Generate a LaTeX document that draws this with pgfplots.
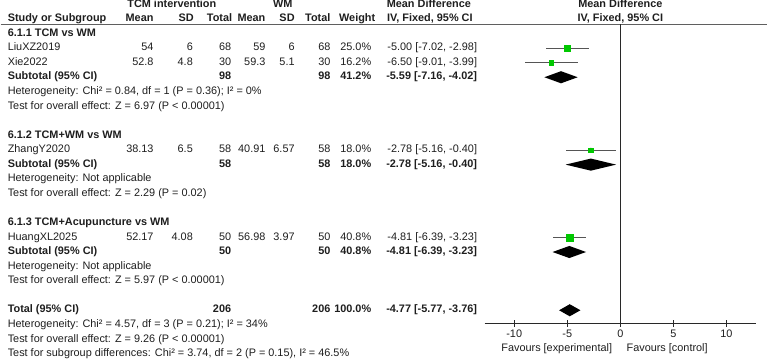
\documentclass[border=0pt]{standalone}
\usepackage{fontspec}
\setmainfont{Liberation Sans}
\usepackage{pgfplots}
\usepackage{pgfplotstable}
\pgfplotsset{compat=1.18}

\definecolor{sqgreen}{RGB}{0,200,0}
\definecolor{cigray}{RGB}{85,85,85}
\definecolor{rulegray}{RGB}{95,95,95}
\definecolor{axisc}{RGB}{40,40,40}
\definecolor{txt}{RGB}{30,30,30}

% study estimates: row position, mean difference, 95% CI, weight (%)
\pgfplotstableread{
row     md     lo     hi     w
-49.25  -5.00  -7.02  -2.98  25.0
-63.70  -6.50  -9.01  -3.99  16.2
-150.40 -2.78  -5.16  -0.40  18.0
-237.10 -4.81  -6.39  -3.23  40.8
}\studies

% The whole page is one axis; the table columns are placed in
% mean-difference units (0 of the scale at 620pt, 10.53pt per unit).
\newcommand\tf{\fontsize{10.8}{13}\selectfont}
\tikzset{cell/.style={inner sep=0pt,font=\tf,text=txt}}
\newcommand\cellL[2]{\node[cell,anchor=mid west] at (axis cs:-57.740,-#1) {#2};}
\newcommand\cellR[3]{\node[cell,anchor=mid east] at (axis cs:#1,-#2) {#3};}
\newcommand\cellC[3]{\node[cell,anchor=mid] at (axis cs:#1,-#2) {#3};}
% y, mean, sd, total (experimental), mean, sd, total (control), weight, CI
\newcommand\study[9]{%
  \cellR{-43.970}{#1}{#2}\cellR{-40.266}{#1}{#3}\cellR{-36.657}{#1}{#4}%
  \cellR{-33.428}{#1}{#5}\cellR{-30.674}{#1}{#6}\cellR{-27.303}{#1}{#7}%
  \cellR{-23.457}{#1}{#8}\cellR{-13.485}{#1}{#9}}
% y, label, total, weight, CI
\newcommand\subtot[5]{%
  \cellL{#1}{\bfseries #2}\cellR{-36.657}{#1}{\bfseries #3}%
  \cellR{-27.303}{#1}{\bfseries #3}\cellR{-23.457}{#1}{\bfseries #4}%
  \cellR{-13.485}{#1}{\bfseries #5}}

\begin{document}
\begin{tikzpicture}[font=\tf]
\begin{axis}[
  width=767pt, height=361pt, scale only axis,
  xmin=-58.8794, xmax=13.9601, ymin=-361, ymax=0,
  hide axis, clip=false,
]
% column headers
\cellC{-42.260}{6.7}{\bfseries TCM intervention}
\cellC{-31.814}{6.7}{\bfseries WM}
\cellC{-18.044}{6.7}{\bfseries Mean Difference}
\cellC{0}{6.7}{\bfseries Mean Difference}
\cellL{20.7}{\bfseries Study or Subgroup}
\cellR{-43.970}{20.7}{\bfseries Mean}
\cellR{-40.171}{20.7}{\bfseries SD}
\cellR{-36.562}{20.7}{\bfseries Total}
\cellR{-33.428}{20.7}{\bfseries Mean}
\cellR{-30.674}{20.7}{\bfseries SD}
\cellR{-27.303}{20.7}{\bfseries Total}
\cellR{-23.077}{20.7}{\bfseries Weight}
\cellC{-17.949}{20.7}{\bfseries IV, Fixed, 95\% CI}
\cellC{0}{20.7}{\bfseries IV, Fixed, 95\% CI}
\draw[rulegray,line width=1pt] (axis cs:-58.405,-25.7) -- (axis cs:13.770,-25.7);

% 6.1.1
\cellL{34.8}{\bfseries 6.1.1 TCM vs WM}
\cellL{49.25}{LiuXZ2019}
\study{49.25}{54}{6}{68}{59}{6}{68}{25.0\%}{-5.00 [-7.02, -2.98]}
\cellL{63.7}{Xie2022}
\study{63.7}{52.8}{4.8}{30}{59.3}{5.1}{30}{16.2\%}{-6.50 [-9.01, -3.99]}
\subtot{78.15}{Subtotal (95\% CI)}{98}{41.2\%}{-5.59 [-7.16, -4.02]}
\cellL{92.6}{Heterogeneity: Chi² = 0.84, df = 1 (P = 0.36); I² = 0\%}
\cellL{107.05}{Test for overall effect: Z = 6.97 (P < 0.00001)}

% 6.1.2
\cellL{135.95}{\bfseries 6.1.2 TCM+WM vs WM}
\cellL{150.4}{ZhangY2020}
\study{150.4}{38.13}{6.5}{58}{40.91}{6.57}{58}{18.0\%}{-2.78 [-5.16, -0.40]}
\subtot{164.85}{Subtotal (95\% CI)}{58}{18.0\%}{-2.78 [-5.16, -0.40]}
\cellL{179.3}{Heterogeneity: Not applicable}
\cellL{193.75}{Test for overall effect: Z = 2.29 (P = 0.02)}

% 6.1.3
\cellL{222.65}{\bfseries 6.1.3 TCM+Acupuncture vs WM}
\cellL{237.1}{HuangXL2025}
\study{237.1}{52.17}{4.08}{50}{56.98}{3.97}{50}{40.8\%}{-4.81 [-6.39, -3.23]}
\subtot{251.55}{Subtotal (95\% CI)}{50}{40.8\%}{-4.81 [-6.39, -3.23]}
\cellL{266.0}{Heterogeneity: Not applicable}
\cellL{280.45}{Test for overall effect: Z = 5.97 (P < 0.00001)}

% overall
\subtot{309.35}{Total (95\% CI)}{206}{100.0\%}{-4.77 [-5.77, -3.76]}
\cellL{323.8}{Heterogeneity: Chi² = 4.57, df = 3 (P = 0.21); I² = 34\%}
\cellL{338.25}{Test for overall effect: Z = 9.26 (P < 0.00001)}
\cellL{352.7}{Test for subgroup differences: Chi² = 3.74, df = 2 (P = 0.15), I² = 46.5\%}

% mean difference scale
\draw[axisc,line width=1pt] (axis cs:0,-25.7) -- (axis cs:0,-322.7);
\draw[axisc,line width=1pt] (axis cs:-12.8,-322.7) -- (axis cs:12.8,-322.7);
\pgfplotsinvokeforeach{-10,-5,0,5,10}{%
  \draw[axisc,line width=1pt] (axis cs:#1,-319.2) -- (axis cs:#1,-326.2);
  \node[cell,anchor=mid] at (axis cs:#1,-334) {#1};
}
\node[cell,anchor=mid east] at (axis cs:-0.760,-347.7) {Favours [experimental]};
\node[cell,anchor=mid west] at (axis cs:0.570,-347.7) {Favours [control]};

% confidence intervals of the single studies
\addplot[only marks, mark=none,
  error bars/.cd, x dir=both, x explicit, error mark=none,
  error bar style={draw=cigray,line width=1.1pt}]
  table[x=md, y=row,
        x error minus expr=\thisrow{md}-\thisrow{lo},
        x error plus expr=\thisrow{hi}-\thisrow{md}] {\studies};

% point estimates, square size by weight
\addplot[scatter, only marks, mark=square*,
  scatter/use mapped color={draw=sqgreen,fill=sqgreen},
  visualization depends on={0.53*sqrt(\thisrow{w}) \as \msz},
  scatter/@pre marker code/.append style={/tikz/mark size=\msz}]
  table[x=md, y=row] {\studies};

% pooled estimates
\addplot[fill=black, draw=none] coordinates
  {(-7.16,-78.15) (-5.59,-72.15) (-4.02,-78.15) (-5.59,-84.15)} --cycle;
\addplot[fill=black, draw=none] coordinates
  {(-5.16,-164.85) (-2.78,-158.85) (-0.40,-164.85) (-2.78,-170.85)} --cycle;
\addplot[fill=black, draw=none] coordinates
  {(-6.39,-251.55) (-4.81,-245.55) (-3.23,-251.55) (-4.81,-257.55)} --cycle;
\addplot[fill=black, draw=none] coordinates
  {(-5.77,-309.35) (-4.77,-303.35) (-3.76,-309.35) (-4.77,-315.35)} --cycle;
\end{axis}
\end{tikzpicture}
\end{document}
